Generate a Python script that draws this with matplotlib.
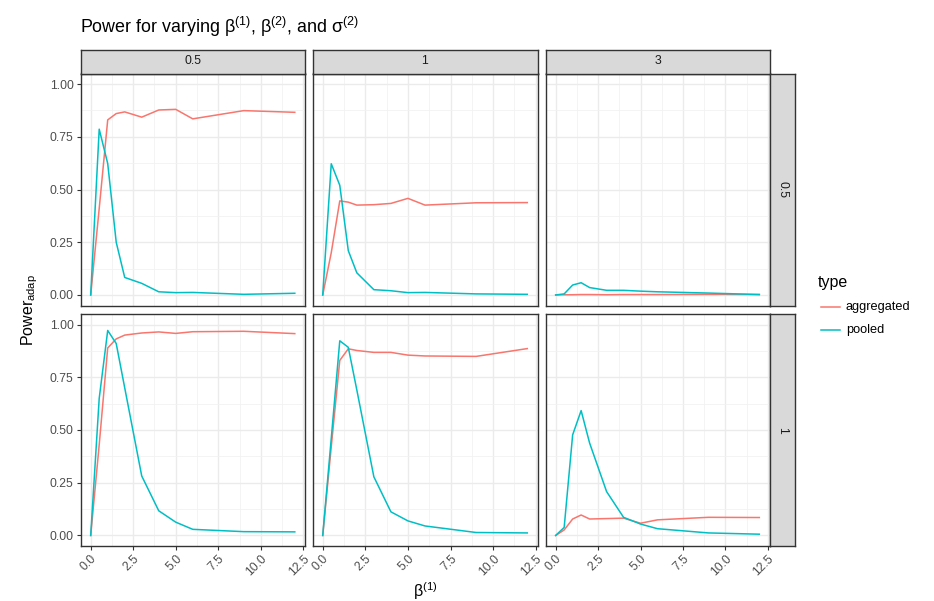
import matplotlib
matplotlib.use("Agg")
import matplotlib.pyplot as plt

plt.rcParams['font.family'] = ['Liberation Sans', 'DejaVu Sans']
plt.rcParams['mathtext.fontset'] = 'custom'
plt.rcParams['mathtext.rm'] = 'Liberation Sans'
plt.rcParams['mathtext.it'] = 'Liberation Sans'

# beta(1) values on the x axis
x = [0, 0.5, 1, 1.5, 2, 3, 4, 5, 6, 9, 12]

col_labels = ["0.5", "1", "3"]
row_labels = ["0.5", "1"]

# top row (0.5)
agg_c05_r05 = [0, 0.41, 0.83, 0.86, 0.868, 0.843, 0.877, 0.88, 0.835, 0.874, 0.866]
pool_c05_r05 = [0, 0.786, 0.623, 0.25, 0.083, 0.055, 0.015, 0.011, 0.012, 0.003, 0.008]
agg_c1_r05 = [0, 0.2, 0.446, 0.44, 0.426, 0.428, 0.434, 0.458, 0.426, 0.437, 0.438]
pool_c1_r05 = [0, 0.622, 0.52, 0.21, 0.105, 0.025, 0.02, 0.011, 0.012, 0.005, 0.003]
agg_c3_r05 = [0, 0.001, 0.001, 0.002, 0.002, 0.001, 0.002, 0.002, 0.002, 0.003, 0.002]
pool_c3_r05 = [0, 0.005, 0.047, 0.058, 0.035, 0.022, 0.022, 0.018, 0.015, 0.009, 0.002]

# bottom row (1)
agg_c05_r1 = [0, 0.43, 0.889, 0.932, 0.95, 0.96, 0.965, 0.958, 0.966, 0.968, 0.957]
pool_c05_r1 = [0, 0.65, 0.972, 0.91, 0.70, 0.282, 0.117, 0.063, 0.029, 0.018, 0.017]
agg_c1_r1 = [0, 0.42, 0.83, 0.885, 0.877, 0.868, 0.868, 0.855, 0.851, 0.849, 0.886]
pool_c1_r1 = [0, 0.46, 0.923, 0.892, 0.69, 0.278, 0.112, 0.069, 0.045, 0.014, 0.012]
agg_c3_r1 = [0, 0.026, 0.078, 0.097, 0.078, 0.08, 0.082, 0.058, 0.074, 0.086, 0.085]
pool_c3_r1 = [0, 0.038, 0.477, 0.592, 0.438, 0.208, 0.086, 0.054, 0.032, 0.012, 0.006]

agg = [[agg_c05_r05, agg_c1_r05, agg_c3_r05], [agg_c05_r1, agg_c1_r1, agg_c3_r1]]
pool = [[pool_c05_r05, pool_c1_r05, pool_c3_r05], [pool_c05_r1, pool_c1_r1, pool_c3_r1]]

W, H = 934, 601
RED = "#F8766D"
CYAN = "#00BFC4"
BORDER = "#333333"
STRIP = "#D9D9D9"

fig = plt.figure(figsize=(W / 100, H / 100), dpi=100)

def box(left, top, right, bottom):
    # pixel box -> figure fraction
    return [left / W, 1 - bottom / H, (right - left) / W, (bottom - top) / H]

col_x = [(80.5, 305), (312.5, 537.5), (545.5, 769.5)]
row_y = [(73.5, 305.5), (314, 546)]

for r in range(2):
    for c in range(3):
        ax = fig.add_axes(box(col_x[c][0], row_y[r][0], col_x[c][1], row_y[r][1]))
        ax.plot(x, agg[r][c], color=RED, lw=1.1)
        ax.plot(x, pool[r][c], color=CYAN, lw=1.1)
        ax.set_xlim(-0.6, 12.6)
        ax.set_ylim(-0.05, 1.05)
        ax.set_xticks([0, 2.5, 5, 7.5, 10, 12.5])
        ax.set_xticks([1.25, 3.75, 6.25, 8.75, 11.25], minor=True)
        ax.set_yticks([0, 0.25, 0.5, 0.75, 1.0])
        ax.set_yticks([0.125, 0.375, 0.625, 0.875], minor=True)
        ax.grid(which="major", color="#EBEBEB", lw=1.0)
        ax.grid(which="minor", color="#F2F2F2", lw=0.6)
        ax.set_axisbelow(True)
        for s in ax.spines.values():
            s.set_color(BORDER)
            s.set_linewidth(1.0)
        ax.tick_params(which="minor", length=0)
        ax.tick_params(which="major", length=3, width=0.8, color=BORDER,
                       labelsize=8.8, labelcolor="#4D4D4D", pad=2)
        if r == 1:
            ax.set_xticklabels(["0.0", "2.5", "5.0", "7.5", "10.0", "12.5"],
                               rotation=45, ha="right", rotation_mode="anchor")
        else:
            ax.tick_params(axis="x", length=0, labelbottom=False)
        if c == 0:
            ax.set_yticklabels(["0.00", "0.25", "0.50", "0.75", "1.00"])
        else:
            ax.tick_params(axis="y", length=0, labelleft=False)

# column strips
for c in range(3):
    sa = fig.add_axes(box(col_x[c][0], 49.5, col_x[c][1], 73.5))
    sa.set_facecolor(STRIP)
    sa.set_xticks([])
    sa.set_yticks([])
    for s in sa.spines.values():
        s.set_color(BORDER)
        s.set_linewidth(1.0)
    sa.text(0.5, 0.5, col_labels[c], ha="center", va="center", fontsize=8.8, color="#1A1A1A",
            transform=sa.transAxes)

# row strips
for r in range(2):
    sa = fig.add_axes(box(770, row_y[r][0], 794.5, row_y[r][1]))
    sa.set_facecolor(STRIP)
    sa.set_xticks([])
    sa.set_yticks([])
    for s in sa.spines.values():
        s.set_color(BORDER)
        s.set_linewidth(1.0)
    sa.text(0.5, 0.5, row_labels[r], ha="center", va="center", fontsize=8.8, color="#1A1A1A",
            rotation=-90, transform=sa.transAxes)

fig.text(80 / W, 1 - 27 / H, r"Power for varying β$^{\mathrm{(1)}}$, β$^{\mathrm{(2)}}$, and σ$^{\mathrm{(2)}}$",
         fontsize=12.9, ha="left", va="center")
fig.text(425 / W, 1 - 591 / H, r"β$^{\mathrm{(1)}}$", fontsize=11.5, ha="center", va="center")
fig.text(30 / W, 1 - 310 / H, r"Power$_{\mathrm{adap}}$", fontsize=11.5, ha="center", va="center",
         rotation=90)

# legend
fig.text(818 / W, 1 - 283 / H, "type", fontsize=11.5, ha="left", va="center")
lx = [821 / W, 840 / W]
fig.add_artist(plt.Line2D(lx, [1 - 307 / H] * 2, color=RED, lw=1.1))
fig.add_artist(plt.Line2D(lx, [1 - 330 / H] * 2, color=CYAN, lw=1.1))
fig.text(846 / W, 1 - 307 / H, "aggregated", fontsize=9.2, ha="left", va="center")
fig.text(846 / W, 1 - 330 / H, "pooled", fontsize=9.2, ha="left", va="center")

plt.savefig("out.png", format="png", dpi=100)
